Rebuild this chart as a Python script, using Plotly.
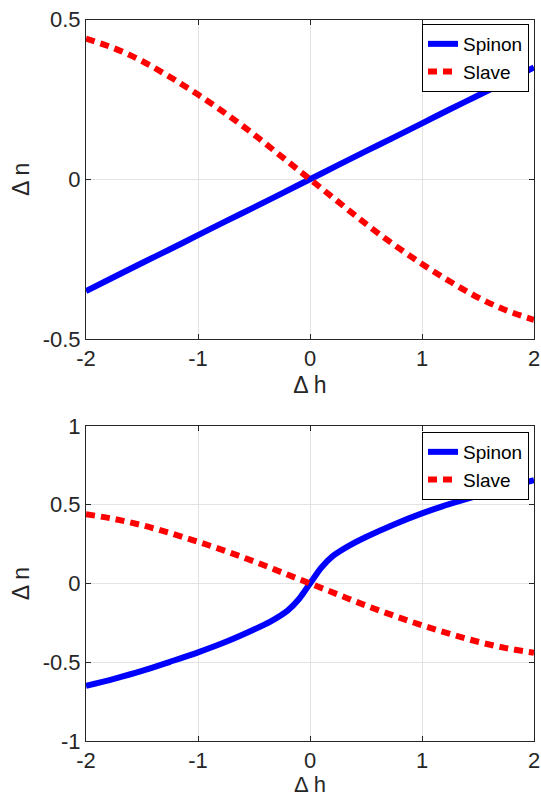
import plotly.graph_objects as go

# ---- data ----
x_top = [-2.0, -1.75, -1.5, -1.25, -1.0, -0.75, -0.5, -0.25, 0.0,
         0.25, 0.5, 0.75, 1.0, 1.25, 1.5, 1.75, 2.0]
spinon_top = [-0.350, -0.306, -0.262, -0.219, -0.175, -0.131, -0.088, -0.044, 0.0,
              0.044, 0.088, 0.131, 0.175, 0.219, 0.262, 0.306, 0.350]
slave_top = [0.440, 0.410, 0.370, 0.320, 0.265, 0.205, 0.140, 0.070, 0.0,
             -0.070, -0.140, -0.205, -0.265, -0.320, -0.370, -0.410, -0.440]

x_bot_spinon = [-2.0, -1.75, -1.5, -1.25, -1.0, -0.75, -0.5, -0.35, -0.2, -0.1, 0.0,
                0.1, 0.2, 0.35, 0.5, 0.75, 1.0, 1.25, 1.5, 1.75, 2.0]
spinon_bot = [-0.650, -0.605, -0.555, -0.497, -0.437, -0.370, -0.292, -0.240, -0.172, -0.100, 0.0,
              0.100, 0.172, 0.240, 0.295, 0.375, 0.445, 0.505, 0.558, 0.608, 0.657]
x_bot_slave = [-2.0, -1.75, -1.5, -1.25, -1.0, -0.75, -0.5, -0.25, 0.0,
               0.25, 0.5, 0.75, 1.0, 1.25, 1.5, 1.75, 2.0]
slave_bot = [0.440, 0.410, 0.370, 0.320, 0.265, 0.205, 0.140, 0.070, 0.0,
             -0.070, -0.140, -0.205, -0.265, -0.320, -0.370, -0.410, -0.440]

x_ticks = [-2, -1, 0, 1, 2]
y_ticks_top = [-0.5, 0, 0.5]
y_ticks_bot = [-1, -0.5, 0, 0.5, 1]

BLUE = "#0000ff"
RED = "#ff0000"
FONT = "Liberation Sans, Arial, sans-serif"
AX = "#262626"

fig = go.Figure()
fig.add_trace(go.Scatter(x=x_top, y=spinon_top, mode="lines", name="Spinon",
                         line=dict(color=BLUE, width=6, shape="spline", smoothing=0.8),
                         xaxis="x", yaxis="y", legend="legend", cliponaxis=False))
fig.add_trace(go.Scatter(x=x_top, y=slave_top, mode="lines", name="Slave",
                         line=dict(color=RED, width=6, dash="9px,6px", shape="spline"),
                         xaxis="x", yaxis="y", legend="legend", cliponaxis=False))
fig.add_trace(go.Scatter(x=x_bot_spinon, y=spinon_bot, mode="lines", name="Spinon",
                         line=dict(color=BLUE, width=6, shape="spline", smoothing=0.8),
                         xaxis="x2", yaxis="y2", legend="legend2", cliponaxis=False))
fig.add_trace(go.Scatter(x=x_bot_slave, y=slave_bot, mode="lines", name="Slave",
                         line=dict(color=RED, width=6, dash="9px,6px", shape="spline"),
                         xaxis="x2", yaxis="y2", legend="legend2", cliponaxis=False))

xd = [86 / 541, 534 / 541]
top_dom = [1 - 339 / 797, 1 - 19.5 / 797]
bot_dom = [1 - 741 / 797, 1 - 426 / 797]

def xaxis(anchor, tsize):
    return dict(domain=xd, anchor=anchor, range=[-2, 2], tickvals=x_ticks,
                ticktext=[str(v) for v in x_ticks], automargin=False,
                ticklabeloverflow="allow",
                showline=True, linecolor=AX, linewidth=1, mirror="ticks",
                ticks="inside", ticklen=5, tickcolor=AX,
                showgrid=True, gridcolor="#e3e3e3", gridwidth=1, zeroline=False,
                tickfont=dict(family=FONT, size=22, color=AX),
                title=dict(text="Δ h", font=dict(family=FONT, size=tsize, color=AX), standoff=6))

def yaxis(anchor, dom, rng, vals):
    return dict(domain=dom, anchor=anchor, range=rng, tickvals=vals,
                ticktext=[("%g" % v) for v in vals], automargin=False,
                ticklabeloverflow="allow",
                showline=True, linecolor=AX, linewidth=1, mirror="ticks",
                ticks="inside", ticklen=5, tickcolor=AX,
                showgrid=True, gridcolor="#e3e3e3", gridwidth=1, zeroline=False,
                tickfont=dict(family=FONT, size=22, color=AX),
                title=dict(text="Δ n", font=dict(family=FONT, size=23, color=AX), standoff=6))

leg = dict(bgcolor="white", bordercolor="black", borderwidth=1,
           font=dict(family=FONT, size=19, color="black"),
           xanchor="right", yanchor="top", itemwidth=30,
           tracegroupgap=0, itemsizing="trace")

fig.update_layout(
    width=541, height=797, margin=dict(l=0, r=0, t=0, b=0),
    paper_bgcolor="white", plot_bgcolor="white",
    xaxis=xaxis("y", 23), yaxis=yaxis("x", top_dom, [-0.5, 0.5], y_ticks_top),
    xaxis2=xaxis("y2", 22), yaxis2=yaxis("x2", bot_dom, [-1, 1], y_ticks_bot),
    legend=dict(leg, x=529 / 541, y=1 - 24 / 797),
    legend2=dict(leg, x=529 / 541, y=1 - 432 / 797),
    showlegend=True,
)

fig.write_html("out.html", config={"displayModeBar": False},
               post_script="document.body.style.margin='0px';document.body.style.overflow='hidden';")
